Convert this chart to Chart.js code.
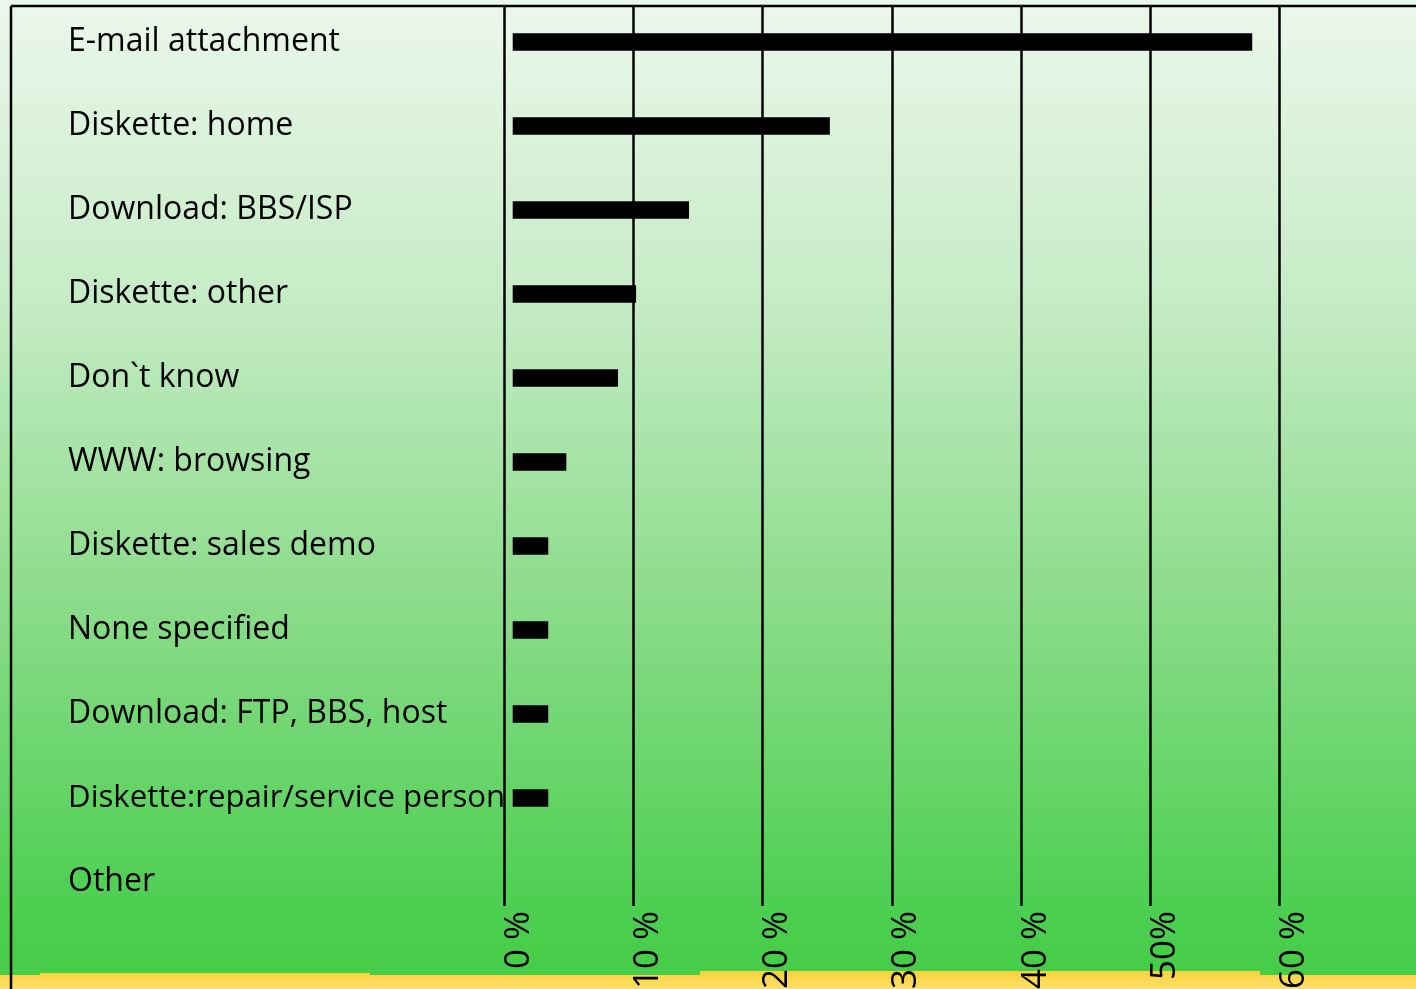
<!DOCTYPE html>
<html>
<head>
<meta charset="utf-8">
<title>Virus entry routes</title>
<script src="https://cdn.jsdelivr.net/npm/chart.js@4/dist/chart.umd.min.js"></script>
<style>
  html, body { margin: 0; padding: 0; overflow: hidden; background: #fff; }
  #wrap { width: 1416px; height: 989px; }
</style>
</head>
<body>
<div id="wrap"><canvas id="sourcesChart" width="1416" height="989"></canvas></div>
<script>
// categorii (de sus in jos)
const categories = [
  'E-mail attachment',
  'Diskette: home',
  'Download: BBS/ISP',
  'Diskette: other',
  'Don`t know',
  'WWW: browsing',
  'Diskette: sales demo',
  'None specified',
  'Download: FTP, BBS, host',
  'Diskette:repair/service person',
  'Other'
];
// procente ("Other" nu are bara)
const shares = [57.9, 25.2, 14.3, 10.2, 8.8, 4.8, 3.4, 3.4, 3.4, 3.4, null];
const tickValues = [0, 10, 20, 30, 40, 50, 60];
const tickLabels = ['0 %', '10 %', '20 %', '30 %', '40 %', '50%', '60 %'];

const FONT = '"Open Sans", "Noto Sans", sans-serif';

// fundal cu gradient verde + banda galbena, rama si liniile verticale
const backdrop = {
  id: 'backdrop',
  beforeDraw(chart) {
    const ctx = chart.ctx;
    const w = chart.width, h = chart.height;
    ctx.save();
    const g = ctx.createLinearGradient(0, 0, 0, h);
    g.addColorStop(0, '#ecf7ec');
    g.addColorStop(0.3, '#c6ecc6');
    g.addColorStop(0.6, '#8ddc8c');
    g.addColorStop(0.92, '#4ccf50');
    g.addColorStop(1, '#44cc46');
    ctx.fillStyle = g;
    ctx.fillRect(0, 0, w, h);

    const y = ctx.createLinearGradient(0, 972, 0, h);
    y.addColorStop(0, '#fbd23c');
    y.addColorStop(1, '#fde06a');
    ctx.fillStyle = y;
    ctx.fillRect(0, 975, w, h - 975);
    ctx.fillRect(700, 971, 560, 5);
    ctx.fillRect(40, 973, 330, 3);

    // rama
    ctx.strokeStyle = '#000';
    ctx.lineWidth = 2.5;
    ctx.beginPath();
    ctx.moveTo(11, 6); ctx.lineTo(w, 6);
    ctx.moveTo(11, 6); ctx.lineTo(11, h);
    ctx.stroke();
    ctx.restore();
  },
  beforeDatasetsDraw(chart) {
    const ctx = chart.ctx;
    const xs = chart.scales.x;
    ctx.save();
    ctx.strokeStyle = '#000';
    ctx.lineWidth = 2.5;
    tickValues.forEach(v => {
      const px = Math.round(xs.getPixelForValue(v)) + 0.5;
      ctx.beginPath();
      ctx.moveTo(px, 6);
      ctx.lineTo(px, 906);
      ctx.stroke();
    });
    ctx.restore();
  }
};

new Chart(document.getElementById('sourcesChart').getContext('2d'), {
  type: 'bar',
  data: {
    labels: categories,
    datasets: [{
      data: shares,
      base: 0.7,
      backgroundColor: '#000',
      borderWidth: 0,
      barThickness: 17
    }]
  },
  options: {
    indexAxis: 'y',
    responsive: false,
    animation: false,
    layout: { padding: { left: 68, right: 137, top: -3, bottom: 0 } },
    plugins: {
      legend: { display: false },
      tooltip: { enabled: false }
    },
    scales: {
      x: {
        type: 'linear',
        position: 'bottom',
        min: 0,
        max: 60,
        grid: { display: false, drawTicks: false },
        border: { display: false },
        afterBuildTicks(scale) {
          scale.ticks = tickValues.map(v => ({ value: v }));
        },
        afterFit(scale) { scale.height = 65; },
        ticks: {
          autoSkip: false,
          mirror: true,          // etichetele urca putin peste baza zonei de desen
          minRotation: 90,
          maxRotation: 90,
          padding: 13,
          labelOffset: 57,
          color: '#000',
          font: { family: FONT, size: 35 },
          callback: (v, i) => tickLabels[i]
        }
      },
      y: {
        type: 'category',
        grid: { display: false, drawTicks: false },
        border: { display: false },
        afterFit(scale) {
          scale.width = 436;
          scale.paddingTop = 0;
          scale.paddingBottom = 0;
        },
        ticks: {
          crossAlign: 'far',
          padding: 0,
          color: '#000',
          // eticheta cea mai lunga abia incape pana la linia de 0 %
          font: (c) => ({ family: FONT, size: categories[c.index].length > 26 ? 31.2 : 32 })
        }
      }
    }
  },
  plugins: [backdrop]
});
</script>
</body>
</html>
